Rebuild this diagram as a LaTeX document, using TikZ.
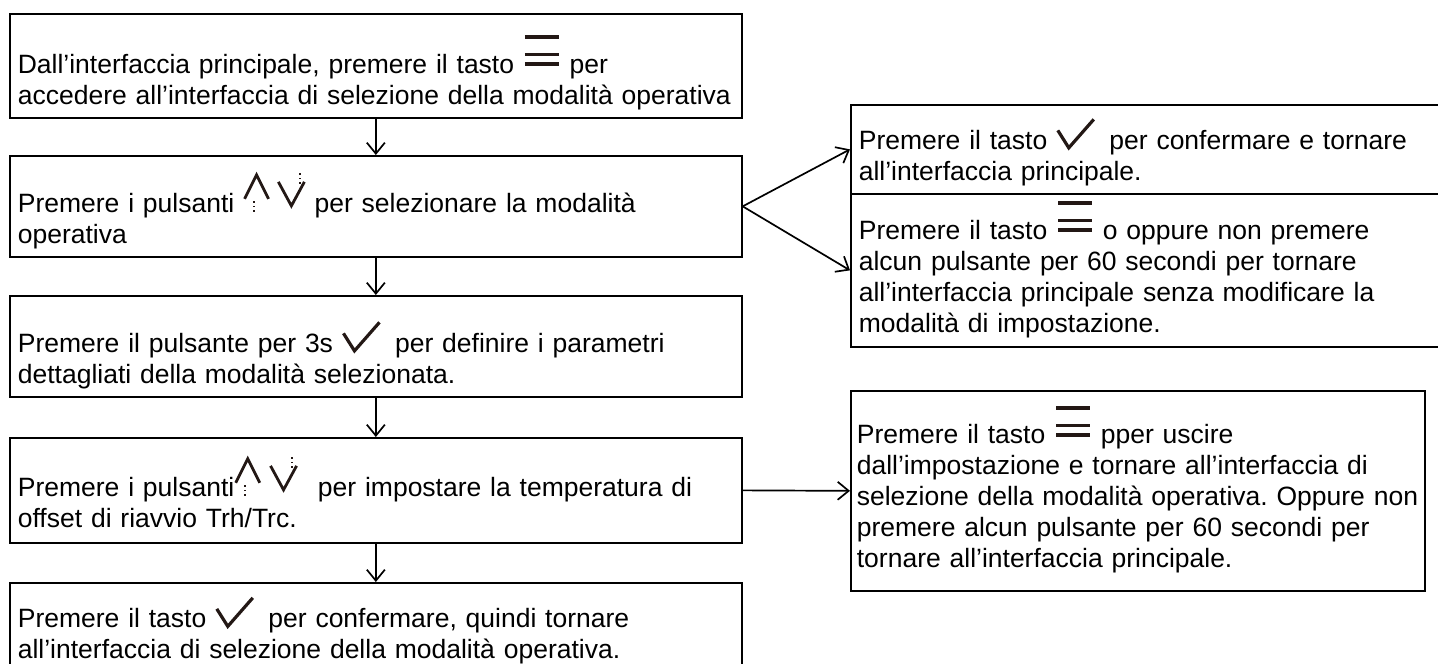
\documentclass[tikz,border=0pt]{standalone}
\usepackage{fontspec}
\setmainfont{Liberation Sans}
\usepackage{tikz}
\usetikzlibrary{arrows.meta}
\definecolor{inkdark}{RGB}{35,24,21}

% key symbols printed inside the step texts
\newcommand{\menukey}{\tikz[baseline=0pt,x=1pt,y=1pt]{%
  \draw[inkdark,line width=3.8pt] (0,36) -- (34,36);
  \draw[inkdark,line width=3pt] (0,18.5) -- (34,18.5);
  \draw[inkdark,line width=3.8pt] (0,9) -- (34,9);}}
\newcommand{\okkey}{\tikz[baseline=0pt,x=1pt,y=1pt]{%
  \draw[inkdark,line width=3.2pt] (0,19) -- (11,1.5) -- (36,30);}}
\newcommand{\upkey}{\tikz[baseline=0pt,x=1pt,y=1pt]{%
  \draw[inkdark,line width=2.8pt] (0,14) -- (12,38) -- (24,14);
  \foreach \d in {1,5.5,10} \fill[inkdark] (8.5,\d) rectangle +(1.8,1.8);}}
\newcommand{\downkey}{\tikz[baseline=0pt,x=1pt,y=1pt]{%
  \draw[inkdark,line width=2.8pt] (0,31) -- (13,7) -- (26,31);
  \foreach \d in {29,33.5,38} \fill[inkdark] (20.5,\d) rectangle +(1.8,1.8);}}

\begin{document}
\frenchspacing
\begin{tikzpicture}[x=1pt, y=-1pt,
  box/.style={draw=black, line width=1.7pt, anchor=north west, inner xsep=8pt,
    inner ysep=0pt, align=left, font=\fontsize{26.5pt}{31pt}\selectfont},
  flow/.style={line width=1.7pt, -{Straight Barb[length=11pt,width=18pt]}}]

  \useasboundingbox (0,0) rectangle (1438,664);

  % Left column — main steps
  \node[box, text width=716pt, text height=59.5pt, text depth=44.5pt] (b1) at (9,13)
    {Dall’interfaccia principale, premere il tasto \menukey{} per\\
     accedere all’interfaccia di selezione della modalità operativa};
  \node[box, text width=716pt, text height=57pt, text depth=44pt] (b2) at (9,155)
    {Premere i pulsanti \upkey\hspace{7pt}\downkey{} per selezionare la modalità\\
     operativa};
  \node[box, text width=716pt, text height=56.5pt, text depth=44.5pt] (b3) at (9,295)
    {Premere il pulsante per 3s \okkey\hspace{14pt}per definire i parametri\\
     dettagliati della modalità selezionata.};
  \node[box, text width=716pt, text height=59pt, text depth=46pt] (b4) at (9,437)
    {Premere i pulsanti\upkey\hspace{8pt}\downkey\hspace{20pt}per impostare la temperatura di\\
     offset di riavvio Trh/Trc.};
  \node[box, text width=716pt, text height=45pt, text depth=45pt] (b5) at (9,582)
    {Premere il tasto \okkey\hspace{14pt}per confermare, quindi tornare\\
     all’interfaccia di selezione della modalità operativa.};

  % Right column — exits
  \node[box, text width=594pt, text height=44.5pt, text depth=44.5pt] (r1) at (850,104)
    {Premere il tasto \okkey\hspace{14pt}per confermare e tornare\\
     all’interfaccia principale.};
  \node[box, text width=594pt, text height=45.5pt, text depth=107.5pt] (r2) at (850,193)
    {Premere il tasto \menukey{} o oppure non premere\\
     alcun pulsante per 60 secondi per tornare\\
     all’interfaccia principale senza modificare la\\
     modalità di impostazione.};
  \node[box, inner xsep=6pt, text width=562pt, text height=53pt, text depth=147pt] (r3) at (850,390)
    {Premere il tasto \menukey{} pper uscire\\
     dall’impostazione e tornare all’interfaccia di\\
     selezione della modalità operativa. Oppure non\\
     premere alcun pulsante per 60 secondi per\\
     tornare all’interfaccia principale.};

  % Arrows
  \foreach \a/\b in {b1/b2,b2/b3,b3/b4,b4/b5}
    \draw[flow] (\a.south) -- (\b.north);
  \draw[flow] (b2.east) -- (r1.west);
  \draw[flow] (b2.east) -- (r2.west);
  \draw[flow] (b4.east) -- (r3.west);

\end{tikzpicture}
\end{document}
